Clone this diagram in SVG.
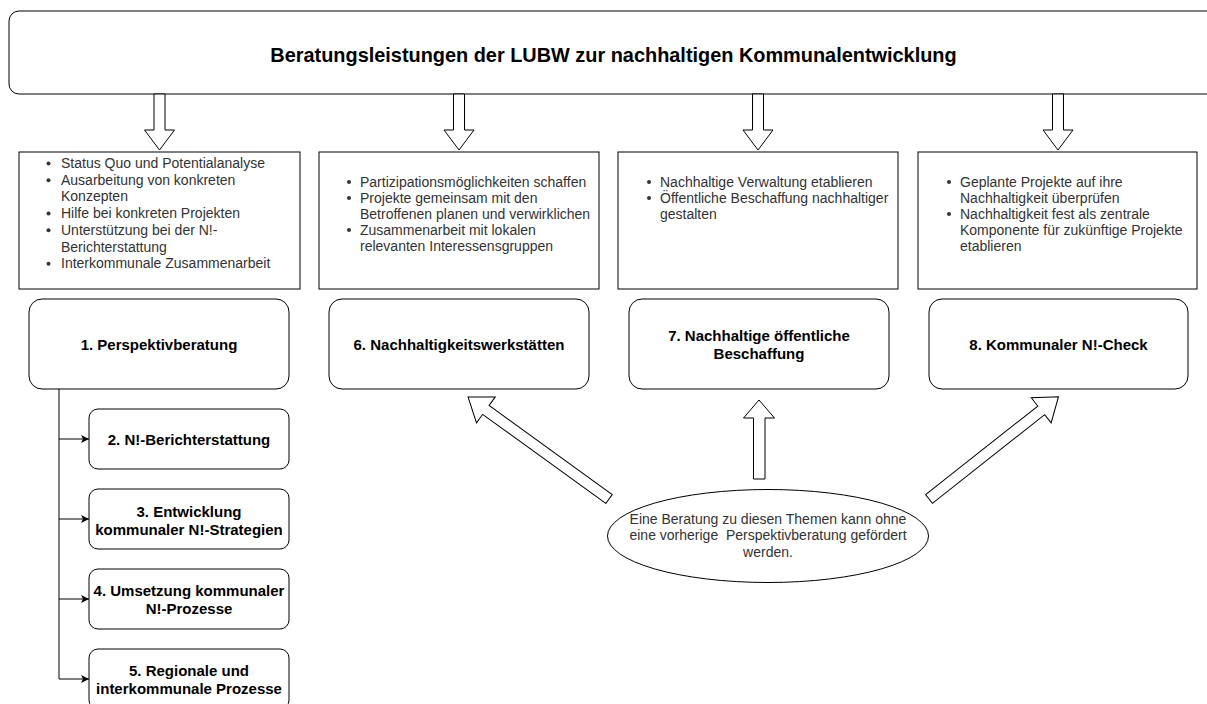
<svg xmlns="http://www.w3.org/2000/svg" width="1207" height="704" viewBox="0 0 1207 704">
<style>
.bg{fill:#fff}
.box{fill:#fff;stroke:#000;stroke-width:1}
.blk{fill:#fff;stroke:#000;stroke-width:1;stroke-linejoin:miter}
.title{font-family:"Liberation Sans",Arial,sans-serif;font-size:19.9px;font-weight:bold;fill:#000;text-anchor:middle}
.lbl{font-family:"Liberation Sans",Arial,sans-serif;font-size:15px;font-weight:bold;fill:#000;text-anchor:middle}
.li{font-family:"Liberation Sans",Arial,sans-serif;font-size:14px;fill:#333}
.dot{fill:#333}
.ell{font-family:"Liberation Sans",Arial,sans-serif;font-size:14px;fill:#333;text-anchor:middle;white-space:pre}
.con{fill:none;stroke:#000;stroke-width:1}
</style>
<defs>
<marker id="ah" viewBox="0 0 10 10" refX="10" refY="5" markerWidth="8" markerHeight="8" markerUnits="userSpaceOnUse" orient="auto">
<path d="M0,0 L10,5 L0,10 L2.5,5 Z" fill="#000"/>
</marker>
<polygon id="down" points="-5.5,0 5.5,0 5.5,36 15,36 0,56 -15,36 -5.5,36"/>
</defs>
<rect class="bg" x="0" y="0" width="1207" height="704"/>

<g id="title">
<rect class="box" x="9" y="11" width="1220" height="83" rx="10"/>
<text class="title" x="613.5" y="61.5">Beratungsleistungen der LUBW zur nachhaltigen Kommunalentwicklung</text>
</g>

<g id="connectors">
<use href="#down" class="blk" x="159.5" y="94"/>
<use href="#down" class="blk" x="459" y="94"/>
<use href="#down" class="blk" x="758" y="94"/>
<use href="#down" class="blk" x="1058" y="94"/>
<path class="con" d="M59,389 V679"/>
<path class="con" d="M59,439 H89" marker-end="url(#ah)"/>
<path class="con" d="M59,519 H89" marker-end="url(#ah)"/>
<path class="con" d="M59,599 H89" marker-end="url(#ah)"/>
<path class="con" d="M59,679 H89" marker-end="url(#ah)"/>
<polygon class="blk" transform="translate(609,499) rotate(215.9)" points="0,-5.5 152,-5.5 152,-16 174,0 152,16 152,5.5 0,5.5"/>
<polygon class="blk" points="753.5,479 765,479 765,418 774.5,418 759,400 743.5,418 753.5,418"/>
<polygon class="blk" transform="translate(929,499) rotate(-38.3)" points="0,-5.5 143,-5.5 143,-16 165,0 143,16 143,5.5 0,5.5"/>
</g>

<g id="info1">
<rect class="box" x="19" y="152" width="281" height="137"/>
<circle class="dot" cx="48.5" cy="163.5" r="2"/>
<circle class="dot" cx="48.5" cy="180.2" r="2"/>
<circle class="dot" cx="48.5" cy="213.6" r="2"/>
<circle class="dot" cx="48.5" cy="230.3" r="2"/>
<circle class="dot" cx="48.5" cy="263.7" r="2"/>
<text class="li" x="61" y="168">Status Quo und Potentialanalyse</text>
<text class="li" x="61" y="184.7">Ausarbeitung von konkreten</text>
<text class="li" x="61" y="201.4">Konzepten</text>
<text class="li" x="61" y="218.1">Hilfe bei konkreten Projekten</text>
<text class="li" x="61" y="234.8">Unterstützung bei der N!-</text>
<text class="li" x="61" y="251.5">Berichterstattung</text>
<text class="li" x="61" y="268.2">Interkommunale Zusammenarbeit</text>
</g>

<g id="info2">
<rect class="box" x="319" y="152" width="280" height="137"/>
<circle class="dot" cx="349" cy="182" r="2"/>
<circle class="dot" cx="349" cy="198" r="2"/>
<circle class="dot" cx="349" cy="230" r="2"/>
<text class="li" x="360" y="186.5">Partizipationsmöglichkeiten schaffen</text>
<text class="li" x="360" y="202.5">Projekte gemeinsam mit den</text>
<text class="li" x="360" y="218.5">Betroffenen planen und verwirklichen</text>
<text class="li" x="360" y="234.5">Zusammenarbeit mit lokalen</text>
<text class="li" x="360" y="250.5">relevanten Interessensgruppen</text>
</g>

<g id="info3">
<rect class="box" x="618" y="152" width="280" height="137"/>
<circle class="dot" cx="649" cy="182" r="2"/>
<circle class="dot" cx="649" cy="198" r="2"/>
<text class="li" x="660" y="186.5">Nachhaltige Verwaltung etablieren</text>
<text class="li" x="660" y="202.5">Öffentliche Beschaffung nachhaltiger</text>
<text class="li" x="660" y="218.5">gestalten</text>
</g>

<g id="info4">
<rect class="box" x="918" y="152" width="279" height="137"/>
<circle class="dot" cx="949" cy="182" r="2"/>
<circle class="dot" cx="949" cy="214" r="2"/>
<text class="li" x="960" y="186.5">Geplante Projekte auf ihre</text>
<text class="li" x="960" y="202.5">Nachhaltigkeit überprüfen</text>
<text class="li" x="960" y="218.5">Nachhaltigkeit fest als zentrale</text>
<text class="li" x="960" y="234.5">Komponente für zukünftige Projekte</text>
<text class="li" x="960" y="250.5">etablieren</text>
</g>

<g id="node1">
<rect class="box" x="29" y="299" width="260" height="90" rx="13"/>
<text class="lbl" x="159" y="350">1. Perspektivberatung</text>
</g>
<g id="node6">
<rect class="box" x="329" y="299" width="260" height="90" rx="13"/>
<text class="lbl" x="459" y="350">6. Nachhaltigkeitswerkstätten</text>
</g>
<g id="node7">
<rect class="box" x="629" y="299" width="260" height="90" rx="13"/>
<text class="lbl" x="759" y="341">7. Nachhaltige öffentliche</text>
<text class="lbl" x="759" y="358.5">Beschaffung</text>
</g>
<g id="node8">
<rect class="box" x="929" y="299" width="259" height="90" rx="13"/>
<text class="lbl" x="1058.5" y="350">8. Kommunaler N!-Check</text>
</g>

<g id="node2">
<rect class="box" x="89" y="409" width="200" height="60" rx="9"/>
<text class="lbl" x="189" y="445">2. N!-Berichterstattung</text>
</g>
<g id="node3">
<rect class="box" x="89" y="489" width="200" height="60" rx="9"/>
<text class="lbl" x="189" y="517">3. Entwicklung</text>
<text class="lbl" x="189" y="534.5">kommunaler N!-Strategien</text>
</g>
<g id="node4">
<rect class="box" x="89" y="569" width="200" height="60" rx="9"/>
<text class="lbl" x="189" y="596">4. Umsetzung kommunaler</text>
<text class="lbl" x="189" y="613.5">N!-Prozesse</text>
</g>
<g id="node5">
<rect class="box" x="89" y="649" width="200" height="60" rx="9"/>
<text class="lbl" x="189" y="676">5. Regionale und</text>
<text class="lbl" x="189" y="693.5">interkommunale Prozesse</text>
</g>

<g id="note">
<ellipse class="box" cx="768" cy="536" rx="160.5" ry="46.5"/>
<text class="ell" x="768" y="523.5">Eine Beratung zu diesen Themen kann ohne</text>
<text class="ell" x="768" y="540">eine vorherige  Perspektivberatung gefördert</text>
<text class="ell" x="768" y="556.5">werden.</text>
</g>
</svg>
